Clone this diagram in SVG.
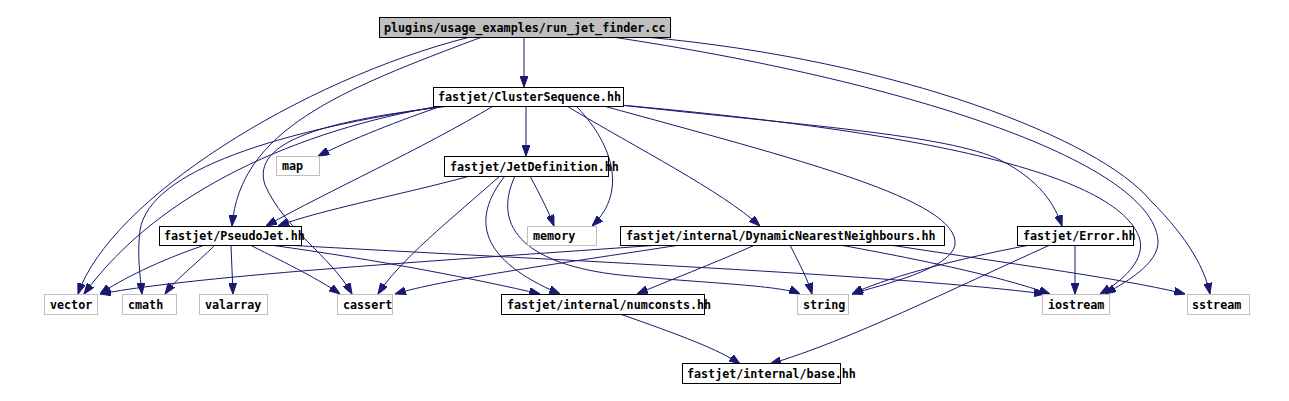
<svg xmlns="http://www.w3.org/2000/svg" width="1289" height="401" viewBox="0 0 1289 401">
<style>
.n rect{fill:#fff;stroke:#000;stroke-width:1}
.g rect{fill:#fff;stroke:#bfbfbf;stroke-width:1}
.top rect{fill:#bfbfbf;stroke:#000}
text{font-family:"DejaVu Sans Mono","Liberation Mono",monospace;font-weight:bold;font-size:11.7px;fill:#000}
#edges path{fill:none;stroke:#191970;stroke-width:1;marker-end:url(#ah)}
</style>
<defs>
<marker id="ah" markerUnits="userSpaceOnUse" markerWidth="11" markerHeight="8" refX="11" refY="4" orient="auto">
<path d="M0,0 L11,4 L0,8 z" fill="#191970" stroke="#191970"/>
</marker>
</defs>
<rect width="1289" height="401" fill="#fff"/>
<g id="edges">
<path d="M524,37 L524,87"/>
<path d="M470,37 C300,80 110,200 78,294"/>
<path d="M482,37 C340,90 240,130 232,226"/>
<path d="M612,37 C900,80 1150,160 1158,240 C1160,265 1120,285 1105,294"/>
<path d="M645,37 C900,60 1100,140 1150,200 C1190,240 1205,270 1210,294"/>
<path d="M445,105 C400,120 350,140 318,156"/>
<path d="M526,105 L526,156"/>
<path d="M440,106 C300,130 160,190 84,294"/>
<path d="M445,106 C280,130 150,170 140,230 C137,255 140,275 142,294"/>
<path d="M495,105 C420,150 330,190 266,226"/>
<path d="M450,106 C330,120 250,140 265,185 C285,230 330,255 352,294"/>
<path d="M575,105 C610,140 630,190 592,226"/>
<path d="M565,105 C640,150 720,190 760,226"/>
<path d="M600,105 C800,160 960,200 955,245 C950,270 880,285 852,294"/>
<path d="M620,105 C800,125 950,135 1000,160 C1040,180 1055,205 1062,226"/>
<path d="M620,105 C900,130 1120,170 1140,240 C1145,265 1115,285 1100,294"/>
<path d="M470,176 C400,195 320,210 278,226"/>
<path d="M530,176 C540,195 548,210 554,226"/>
<path d="M500,176 C450,220 400,260 378,294"/>
<path d="M505,176 C470,220 480,260 560,294"/>
<path d="M515,176 C490,230 530,265 620,275 C700,283 780,285 800,294"/>
<path d="M205,245 C160,260 120,280 100,294"/>
<path d="M215,245 C195,265 175,280 165,294"/>
<path d="M231,245 L233,294"/>
<path d="M250,245 C290,265 320,280 340,294"/>
<path d="M270,245 C380,260 480,280 540,294"/>
<path d="M285,245 C550,260 900,275 1045,294"/>
<path d="M660,245 C450,260 200,275 100,294"/>
<path d="M680,245 C550,265 440,280 395,294"/>
<path d="M755,245 C710,265 670,280 637,294"/>
<path d="M790,245 C800,265 808,280 812,294"/>
<path d="M840,245 C950,265 1010,280 1050,294"/>
<path d="M890,245 C1020,265 1130,280 1185,294"/>
<path d="M1030,245 C950,260 880,280 852,294"/>
<path d="M1075,245 L1075,294"/>
<path d="M1050,245 C950,290 850,340 770,364"/>
<path d="M620,314 C680,335 720,350 740,364"/>
</g>
<g id="n_top" class="n top"><rect x="379.5" y="17.5" width="291" height="20"/><text x="384" y="31.5">plugins/usage_examples/run_jet_finder.cc</text></g>
<g id="n_cs" class="n"><rect x="433.5" y="87.5" width="190" height="19"/><text x="438" y="101">fastjet/ClusterSequence.hh</text></g>
<g id="n_map" class="g"><rect x="276.5" y="156.5" width="43" height="19"/><text x="282" y="170">map</text></g>
<g id="n_jd" class="n"><rect x="444.5" y="156.5" width="164" height="20"/><text x="450" y="170.5">fastjet/JetDefinition.hh</text></g>
<g id="n_pj" class="n"><rect x="159.5" y="226.5" width="142" height="19"/><text x="164" y="240">fastjet/PseudoJet.hh</text></g>
<g id="n_memory" class="g"><rect x="527.5" y="226.5" width="69" height="19"/><text x="533" y="240">memory</text></g>
<g id="n_dnn" class="n"><rect x="620.5" y="226.5" width="324" height="19"/><text x="626" y="240">fastjet/internal/DynamicNearestNeighbours.hh</text></g>
<g id="n_err" class="n"><rect x="1017.5" y="226.5" width="116" height="19"/><text x="1023" y="240">fastjet/Error.hh</text></g>
<g id="n_vector" class="g"><rect x="44.5" y="294.5" width="53" height="20"/><text x="50" y="308.5">vector</text></g>
<g id="n_cmath" class="g"><rect x="122.5" y="294.5" width="54" height="20"/><text x="128" y="308.5">cmath</text></g>
<g id="n_valarray" class="g"><rect x="199.5" y="294.5" width="68" height="20"/><text x="205" y="308.5">valarray</text></g>
<g id="n_cassert" class="g"><rect x="337.5" y="294.5" width="55" height="20"/><text x="343" y="308.5">cassert</text></g>
<g id="n_numconsts" class="n"><rect x="501.5" y="294.5" width="203" height="20"/><text x="507" y="308.5">fastjet/internal/numconsts.hh</text></g>
<g id="n_string" class="g"><rect x="797.5" y="294.5" width="51" height="20"/><text x="803" y="308.5">string</text></g>
<g id="n_iostream" class="g"><rect x="1042.5" y="294.5" width="67" height="20"/><text x="1048" y="308.5">iostream</text></g>
<g id="n_sstream" class="g"><rect x="1187.5" y="294.5" width="62" height="20"/><text x="1192" y="308.5">sstream</text></g>
<g id="n_base" class="n"><rect x="682.5" y="363.5" width="158" height="20"/><text x="687" y="377.5">fastjet/internal/base.hh</text></g>
</svg>
